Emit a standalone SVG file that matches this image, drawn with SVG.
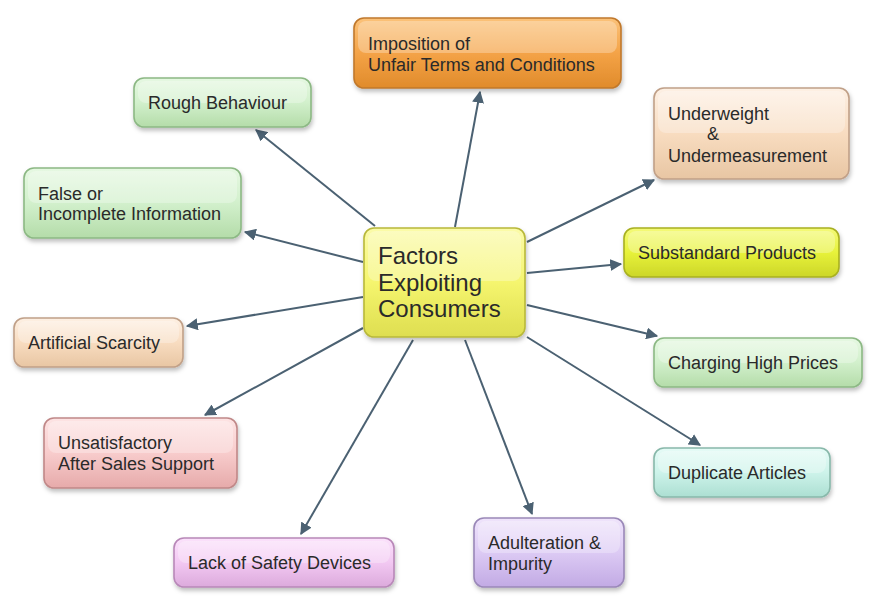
<svg xmlns="http://www.w3.org/2000/svg" width="872" height="599" viewBox="0 0 872 599">
<defs>
<style>
text{font-family:"Liberation Sans",Arial,sans-serif;font-size:18px;fill:#2a2a2a}
.big{font-size:24px}
.box{stroke-width:1.6}
.gl{fill:#fff;opacity:0.28}
.cn line{stroke:#4b6172;stroke-width:2;marker-end:url(#ah)}
</style>
<marker id="ah" viewBox="0 0 10 10" refX="9" refY="5" markerWidth="6" markerHeight="6" markerUnits="strokeWidth" orient="auto">
<path d="M0,0 L10,5 L0,10 z" fill="#4b6172"/>
</marker>
<filter id="sh" x="-10%" y="-10%" width="125%" height="135%">
<feDropShadow dx="1" dy="3" stdDeviation="2" flood-color="#000" flood-opacity="0.25"/>
</filter>
<linearGradient id="gOr" x1="0" y1="0" x2="0" y2="1"><stop offset="0" stop-color="#fbc27a"/><stop offset="0.5" stop-color="#f4a347"/><stop offset="1" stop-color="#e08b2b"/></linearGradient>
<linearGradient id="gGr" x1="0" y1="0" x2="0" y2="1"><stop offset="0" stop-color="#e6f8e2"/><stop offset="0.5" stop-color="#d2f0cc"/><stop offset="1" stop-color="#b4dca9"/></linearGradient>
<linearGradient id="gPe" x1="0" y1="0" x2="0" y2="1"><stop offset="0" stop-color="#fdf0e4"/><stop offset="0.5" stop-color="#f8dcc0"/><stop offset="1" stop-color="#e8c6a3"/></linearGradient>
<linearGradient id="gYe" x1="0" y1="0" x2="0" y2="1"><stop offset="0" stop-color="#fbfbaa"/><stop offset="0.5" stop-color="#f5f56e"/><stop offset="1" stop-color="#dede50"/></linearGradient>
<linearGradient id="gSu" x1="0" y1="0" x2="0" y2="1"><stop offset="0" stop-color="#f4fa7a"/><stop offset="0.5" stop-color="#e7f23a"/><stop offset="1" stop-color="#ccd628"/></linearGradient>
<linearGradient id="gPk" x1="0" y1="0" x2="0" y2="1"><stop offset="0" stop-color="#fde4e4"/><stop offset="0.5" stop-color="#f8cccc"/><stop offset="1" stop-color="#e6aaaa"/></linearGradient>
<linearGradient id="gMi" x1="0" y1="0" x2="0" y2="1"><stop offset="0" stop-color="#e6fbf6"/><stop offset="0.5" stop-color="#cdf3ea"/><stop offset="1" stop-color="#acdfd2"/></linearGradient>
<linearGradient id="gLa" x1="0" y1="0" x2="0" y2="1"><stop offset="0" stop-color="#efe4fb"/><stop offset="0.5" stop-color="#dccaf4"/><stop offset="1" stop-color="#c2aae4"/></linearGradient>
<linearGradient id="gVi" x1="0" y1="0" x2="0" y2="1"><stop offset="0" stop-color="#fbe2fb"/><stop offset="0.5" stop-color="#f2c8f2"/><stop offset="1" stop-color="#dcaadc"/></linearGradient>
</defs>

<g class="cn" id="connectors">
<line x1="455" y1="227" x2="480" y2="92"/>
<line x1="375" y1="226" x2="256" y2="130"/>
<line x1="527" y1="242" x2="654" y2="180"/>
<line x1="363" y1="262" x2="245" y2="232"/>
<line x1="527" y1="273" x2="621" y2="264"/>
<line x1="363" y1="297" x2="187" y2="326"/>
<line x1="527" y1="305" x2="657" y2="336"/>
<line x1="363" y1="328" x2="205" y2="415"/>
<line x1="527" y1="337" x2="700" y2="445"/>
<line x1="465" y1="340" x2="532" y2="514"/>
<line x1="413" y1="340" x2="301" y2="534"/>
</g>

<g id="center">
<rect x="364" y="228" width="161" height="109" rx="10" fill="url(#gYe)" stroke="#b8b83a" class="box" filter="url(#sh)"/>
<rect x="368" y="231" width="153" height="50" rx="8" class="gl"/>
<text class="big" x="378" y="264">Factors</text>
<text class="big" x="378" y="291">Exploiting</text>
<text class="big" x="378" y="317">Consumers</text>
</g>

<g id="imposition">
<rect x="354" y="18" width="267" height="70" rx="10" fill="url(#gOr)" stroke="#c0782c" class="box" filter="url(#sh)"/>
<rect x="358" y="21" width="259" height="32" rx="8" class="gl"/>
<text x="368" y="50">Imposition of</text>
<text x="368" y="71">Unfair Terms and Conditions</text>
</g>

<g id="rough">
<rect x="134" y="78" width="177" height="49" rx="10" fill="url(#gGr)" stroke="#8cb884" class="box" filter="url(#sh)"/>
<rect x="138" y="81" width="169" height="22" rx="8" class="gl"/>
<text x="148" y="109">Rough Behaviour</text>
</g>

<g id="underweight">
<rect x="654" y="88" width="195" height="91" rx="10" fill="url(#gPe)" stroke="#c0a088" class="box" filter="url(#sh)"/>
<rect x="658" y="91" width="187" height="42" rx="8" class="gl"/>
<text x="668" y="120">Underweight</text>
<text x="707" y="140">&amp;</text>
<text x="668" y="162">Undermeasurement</text>
</g>

<g id="false">
<rect x="24" y="168" width="217" height="70" rx="10" fill="url(#gGr)" stroke="#8cb884" class="box" filter="url(#sh)"/>
<rect x="28" y="171" width="209" height="32" rx="8" class="gl"/>
<text x="38" y="200">False or</text>
<text x="38" y="220">Incomplete Information</text>
</g>

<g id="substandard">
<rect x="624" y="228" width="215" height="49" rx="10" fill="url(#gSu)" stroke="#a8b020" class="box" filter="url(#sh)"/>
<rect x="628" y="231" width="207" height="22" rx="8" class="gl"/>
<text x="638" y="259">Substandard Products</text>
</g>

<g id="artificial">
<rect x="14" y="318" width="169" height="49" rx="10" fill="url(#gPe)" stroke="#c0a088" class="box" filter="url(#sh)"/>
<rect x="18" y="321" width="161" height="22" rx="8" class="gl"/>
<text x="28" y="349">Artificial Scarcity</text>
</g>

<g id="charging">
<rect x="654" y="338" width="208" height="49" rx="10" fill="url(#gGr)" stroke="#8cb884" class="box" filter="url(#sh)"/>
<rect x="658" y="341" width="200" height="22" rx="8" class="gl"/>
<text x="668" y="369">Charging High Prices</text>
</g>

<g id="unsatisfactory">
<rect x="44" y="418" width="193" height="70" rx="10" fill="url(#gPk)" stroke="#c08888" class="box" filter="url(#sh)"/>
<rect x="48" y="421" width="185" height="32" rx="8" class="gl"/>
<text x="58" y="449">Unsatisfactory</text>
<text x="58" y="470">After Sales Support</text>
</g>

<g id="duplicate">
<rect x="654" y="448" width="176" height="49" rx="10" fill="url(#gMi)" stroke="#88b8aa" class="box" filter="url(#sh)"/>
<rect x="658" y="451" width="168" height="22" rx="8" class="gl"/>
<text x="668" y="479">Duplicate Articles</text>
</g>

<g id="adulteration">
<rect x="474" y="518" width="150" height="69" rx="10" fill="url(#gLa)" stroke="#9a88b8" class="box" filter="url(#sh)"/>
<rect x="478" y="521" width="142" height="32" rx="8" class="gl"/>
<text x="488" y="549">Adulteration &amp;</text>
<text x="488" y="570">Impurity</text>
</g>

<g id="safety">
<rect x="174" y="538" width="220" height="49" rx="10" fill="url(#gVi)" stroke="#b888b8" class="box" filter="url(#sh)"/>
<rect x="178" y="541" width="212" height="22" rx="8" class="gl"/>
<text x="188" y="569">Lack of Safety Devices</text>
</g>
</svg>
